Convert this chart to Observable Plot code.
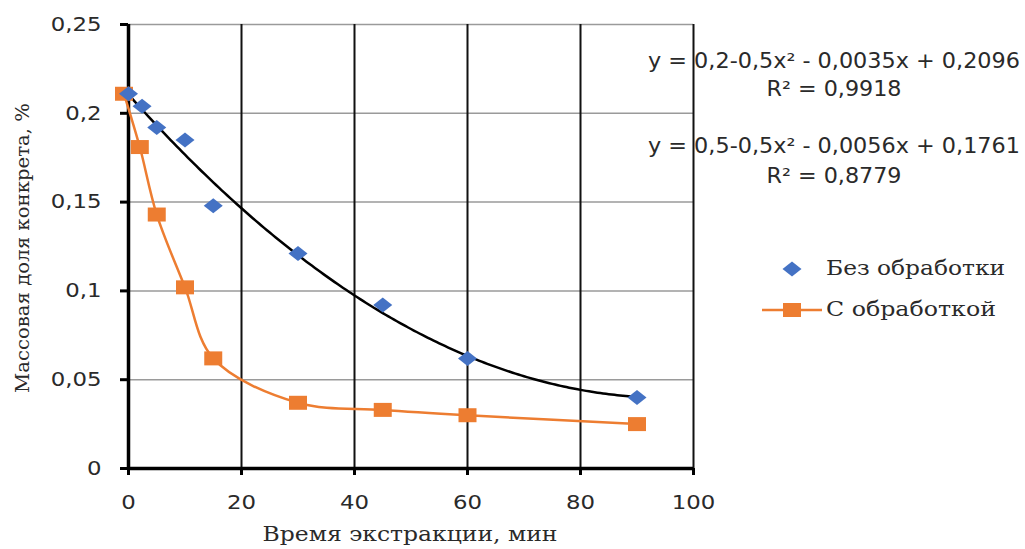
<!DOCTYPE html>
<html>
<head>
<meta charset="utf-8">
<script src="https://cdn.jsdelivr.net/npm/d3@7"></script>
<script src="https://cdn.jsdelivr.net/npm/@observablehq/plot@0.6"></script>
<style>
  html, body { margin: 0; padding: 0; background: #fff; }
  #chart svg { display: block; }
</style>
</head>
<body>
<div id="chart"></div>
<script>
// ---- data ----
const timeNo = [0, 2.4, 5, 10, 15, 30, 45, 60, 90];
const massNo = [0.211, 0.204, 0.192, 0.185, 0.148, 0.121, 0.092, 0.062, 0.040];
const timeTr = [-0.8, 2, 5, 10, 15, 30, 45, 60, 90];
const massTr = [0.211, 0.181, 0.143, 0.102, 0.062, 0.037, 0.033, 0.030, 0.025];
const xTicks = [0, 20, 40, 60, 80, 100];
const yTicks = [0, 0.05, 0.1, 0.15, 0.2, 0.25];
const seriesNames = ["Без обработки", "С обработкой"];
const eqTexts = [
  ["y = 0,2-0,5x² - 0,0035x + 0,2096", "R² = 0,9918"],
  ["y = 0,5-0,5x² - 0,0056x + 0,1761", "R² = 0,8779"]
];
const xLabel = "Время экстракции, мин";
const yLabel = "Массовая доля конкрета, %";

const blue = "#4472C4", orange = "#ED7D31";

const noData = timeNo.map((t, i) => ({t, m: massNo[i]}));
const trData = timeTr.map((t, i) => ({t, m: massTr[i]}));

// polynomial (2nd order) least-squares trendline of the untreated series
function quadFit(xs, ys) {
  const S = [0,0,0,0,0], T = [0,0,0];
  xs.forEach((x, i) => {
    for (let k = 0; k < 5; k++) S[k] += x ** k;
    for (let k = 0; k < 3; k++) T[k] += ys[i] * x ** k;
  });
  const A = [[S[0],S[1],S[2],T[0]],[S[1],S[2],S[3],T[1]],[S[2],S[3],S[4],T[2]]];
  for (let c = 0; c < 3; c++) {
    for (let r = c + 1; r < 3; r++) {
      const f = A[r][c] / A[c][c];
      for (let k = c; k < 4; k++) A[r][k] -= f * A[c][k];
    }
  }
  const b = [0,0,0];
  for (let r = 2; r >= 0; r--) {
    let s = A[r][3];
    for (let k = r + 1; k < 3; k++) s -= A[r][k] * b[k];
    b[r] = s / A[r][r];
  }
  return b;
}
const coef = quadFit(timeNo, massNo);
const trend = d3.range(0, 90.01, 0.5).map(t => ({t, m: coef[0] + coef[1]*t + coef[2]*t*t}));

const diamond = {draw(ctx) { const w = 9.5, h = 7.5; ctx.moveTo(0,-h); ctx.lineTo(w,0); ctx.lineTo(0,h); ctx.lineTo(-w,0); ctx.closePath(); }};
const rectSym = {draw(ctx) { const w = 9, h = 7; ctx.moveTo(-w,-h); ctx.lineTo(w,-h); ctx.lineTo(w,h); ctx.lineTo(-w,h); ctx.closePath(); }};

const fmt = d => d === 0 ? "0" : String(d).replace(".", ",");

const chart = Plot.plot({
  width: 1025, height: 549,
  marginLeft: 128, marginRight: 332, marginTop: 24, marginBottom: 81,
  x: {domain: [0, 100]},
  y: {domain: [0, 0.25]},
  style: {fontFamily: "DejaVu Sans", fontSize: "19px", color: "#2a2a2a", background: "white", overflow: "visible"},
  marks: [
    Plot.gridY(yTicks.filter(d => d > 0), {stroke: "#9a9a9a", strokeOpacity: 1, strokeWidth: 1.5}),
    Plot.gridX(xTicks.filter(d => d > 0), {stroke: "#111", strokeOpacity: 1, strokeWidth: 2}),
    Plot.axisY({ticks: yTicks, tickFormat: fmt, tickSize: 8, tickPadding: 19, stroke: "#000", strokeWidth: 3, fontSize: 19.5, label: null}),
    Plot.axisX({ticks: xTicks, tickFormat: d => String(d), tickSize: 7, tickPadding: 20, stroke: "#000", strokeWidth: 3, fontSize: 19.5, label: null}),
    Plot.ruleX([0], {stroke: "#000", strokeWidth: 3.5}),
    Plot.ruleY([0], {stroke: "#000", strokeWidth: 3.5}),
    Plot.line(trData, {x: "t", y: "m", stroke: orange, strokeWidth: 2.5, curve: "catmull-rom"}),
    Plot.line(trend, {x: "t", y: "m", stroke: "#000", strokeWidth: 2.5}),
    Plot.dot(trData, {x: "t", y: "m", symbol: rectSym, fill: orange, stroke: null, r: 5}),
    Plot.dot(noData, {x: "t", y: "m", symbol: diamond, fill: blue, stroke: null, r: 5})
  ]
});
document.getElementById("chart").appendChild(chart);

const svg = d3.select(chart);

// the reference's text is slightly wider than the installed fonts: stretch tick labels horizontally
svg.selectAll("g[aria-label='y-axis tick label'] text, g[aria-label='x-axis tick label'] text").each(function() {
  const len = this.getComputedTextLength();
  this.setAttribute("textLength", len * 1.17);
  this.setAttribute("lengthAdjust", "spacingAndGlyphs");
});

function addText(x, y, s, opts) {
  const t = svg.append("text").attr("x", x).attr("y", y)
    .attr("text-anchor", opts.anchor || "start")
    .attr("dominant-baseline", "middle")
    .attr("font-family", opts.family || "DejaVu Sans")
    .attr("font-size", opts.size || 19)
    .attr("fill", "#2a2a2a").text(s);
  if (opts.transform) t.attr("transform", opts.transform);
  if (opts.len) t.attr("textLength", opts.len).attr("lengthAdjust", "spacingAndGlyphs");
  return t;
}

// axis titles
addText(410, 535, xLabel, {anchor: "middle", family: "DejaVu Serif", size: 20, len: 295});
addText(0, 0, yLabel, {anchor: "middle", family: "DejaVu Serif", size: 19, len: 290, transform: "translate(24,248) rotate(-90)"});

// trendline equations
const eqY = [[62, 90], [147, 177]];
const eqLen = [372, 135];
eqTexts.forEach((lines, i) => {
  lines.forEach((s, j) => addText(834, eqY[i][j], s, {anchor: "middle", size: 20.5, len: eqLen[j]}));
});

// legend
const leg = svg.append("g");
leg.append("path").attr("transform", "translate(792,269)").attr("d", d3.symbol(diamond)()).attr("fill", blue);
leg.append("line").attr("x1", 762).attr("x2", 822).attr("y1", 310).attr("y2", 310).attr("stroke", orange).attr("stroke-width", 2.5);
leg.append("path").attr("transform", "translate(792,310)").attr("d", d3.symbol(rectSym)()).attr("fill", orange);
const legLen = [179, 170];
seriesNames.forEach((s, i) => addText(826, i === 0 ? 269 : 310, s, {family: "DejaVu Serif", size: 20, len: legLen[i]}));
</script>
</body>
</html>
